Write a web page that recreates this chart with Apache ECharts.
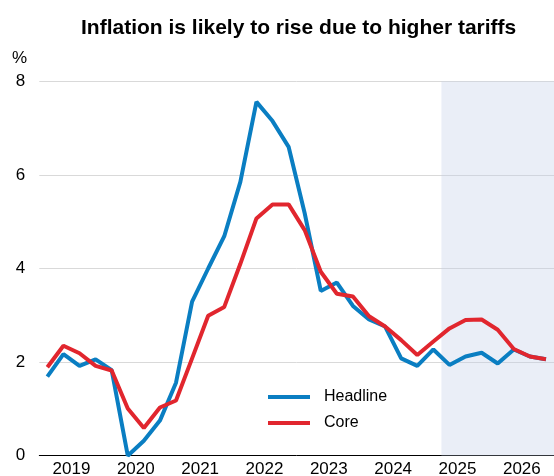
<!DOCTYPE html>
<html>
<head>
<meta charset="utf-8">
<script src="https://cdn.jsdelivr.net/npm/echarts@6/dist/echarts.min.js"></script>
<style>
    html, body { margin: 0; padding: 0; background: #fff; }
    #chart { width: 554px; height: 476px; }
</style>
</head>
<body>
<div id="chart"></div>
<script>
// quarterly data, 2019Q1 .. 2026Q4
const years = ['2019', '2020', '2021', '2022', '2023', '2024', '2025', '2026'];
const quarters = years.flatMap(y => ['Q1', 'Q2', 'Q3', 'Q4'].map(q => y + q));

const headline = [1.69, 2.17, 1.92, 2.06, 1.83, 0.0, 0.32, 0.75,
                  1.56, 3.29, 4.0, 4.69, 5.85, 7.56, 7.15, 6.60,
                  5.18, 3.52, 3.70, 3.20, 2.91, 2.76, 2.08, 1.92,
                  2.27, 1.94, 2.12, 2.20, 1.97, 2.27, 2.12, 2.06];
const core = [1.89, 2.35, 2.19, 1.92, 1.82, 1.01, 0.59, 1.03,
              1.18, 2.08, 2.99, 3.18, 4.1, 5.07, 5.37, 5.37,
              4.82, 3.93, 3.46, 3.40, 2.98, 2.76, 2.47, 2.15,
              2.44, 2.72, 2.90, 2.91, 2.69, 2.28, 2.12, 2.06];
// forecast shading: from start of 2025Q2 to the end (in quarter units)
const forecastRange = [25, 32];
const yTicks = { min: 0, max: 8, interval: 2 };

const FONT = '"Liberation Sans", Arial, sans-serif';
const BLUE = '#0a7ec2';
const RED = '#e1262e';

const chart = echarts.init(document.getElementById('chart'), null, { renderer: 'canvas' });

const option = {
    animation: false,
    textStyle: { fontFamily: FONT },
    title: {
        text: 'Inflation is likely to rise due to higher tariffs',
        left: 76,
        top: 13,
        textStyle: { fontFamily: FONT, fontSize: 21, fontWeight: 'bold', color: '#000' }
    },
    graphic: [{
        type: 'text',
        left: 12,
        top: 50,
        style: { text: '%', font: '17px ' + FONT, fill: '#000' }
    }],
    legend: {
        orient: 'vertical',
        left: 263,
        top: 384,
        itemWidth: 42,
        itemHeight: 4,
        itemGap: 10,
        icon: 'rect',
        textStyle: { fontSize: 16, color: '#000', lineHeight: 16, padding: [0, 0, 0, 9] },
        data: ['Headline', 'Core']
    },
    grid: { left: 39.3, right: 0, top: 81.3, bottom: 20.3, outerBoundsMode: 'none', containLabel: false },
    xAxis: [
        {
            type: 'category',
            position: 'bottom',
            data: quarters,
            boundaryGap: true,
            axisLine: { lineStyle: { color: '#000', width: 1 } },
            axisTick: { inside: true, length: 4, interval: 0, lineStyle: { color: '#000' } },
            axisLabel: { show: false },
            splitLine: { show: false }
        },
        {
            type: 'category',
            position: 'bottom',
            data: years,
            boundaryGap: true,
            axisLine: { show: false },
            axisTick: { inside: true, length: 8, interval: 0, lineStyle: { color: '#000' } },
            axisLabel: { fontSize: 17, color: '#000', margin: 5, fontFamily: FONT, interval: 0 },
            splitLine: { show: false }
        },
        {
            type: 'value',
            position: 'bottom',
            min: 0,
            max: 32,
            show: false
        }
    ],
    yAxis: {
        type: 'value',
        min: yTicks.min,
        max: yTicks.max,
        interval: yTicks.interval,
        axisLine: { show: false },
        axisTick: { show: false },
        axisLabel: { fontSize: 17, color: '#000', margin: 14, fontFamily: FONT },
        splitLine: { lineStyle: { color: '#d9d9d9', width: 1 } }
    },
    series: [
        {
            name: 'forecast',
            type: 'line',
            xAxisIndex: 2,
            data: [],
            silent: true,
            markArea: {
                silent: true,
                itemStyle: { color: 'rgba(196,206,232,0.35)' },
                data: [[{ xAxis: forecastRange[0] }, { xAxis: forecastRange[1] }]]
            }
        },
        {
            name: 'Headline',
            type: 'line',
            data: headline,
            showSymbol: false,
            color: BLUE,
            lineStyle: { width: 4, color: BLUE }
        },
        {
            name: 'Core',
            type: 'line',
            data: core,
            showSymbol: false,
            color: RED,
            lineStyle: { width: 4, color: RED }
        }
    ]
};

chart.setOption(option);
</script>
</body>
</html>
